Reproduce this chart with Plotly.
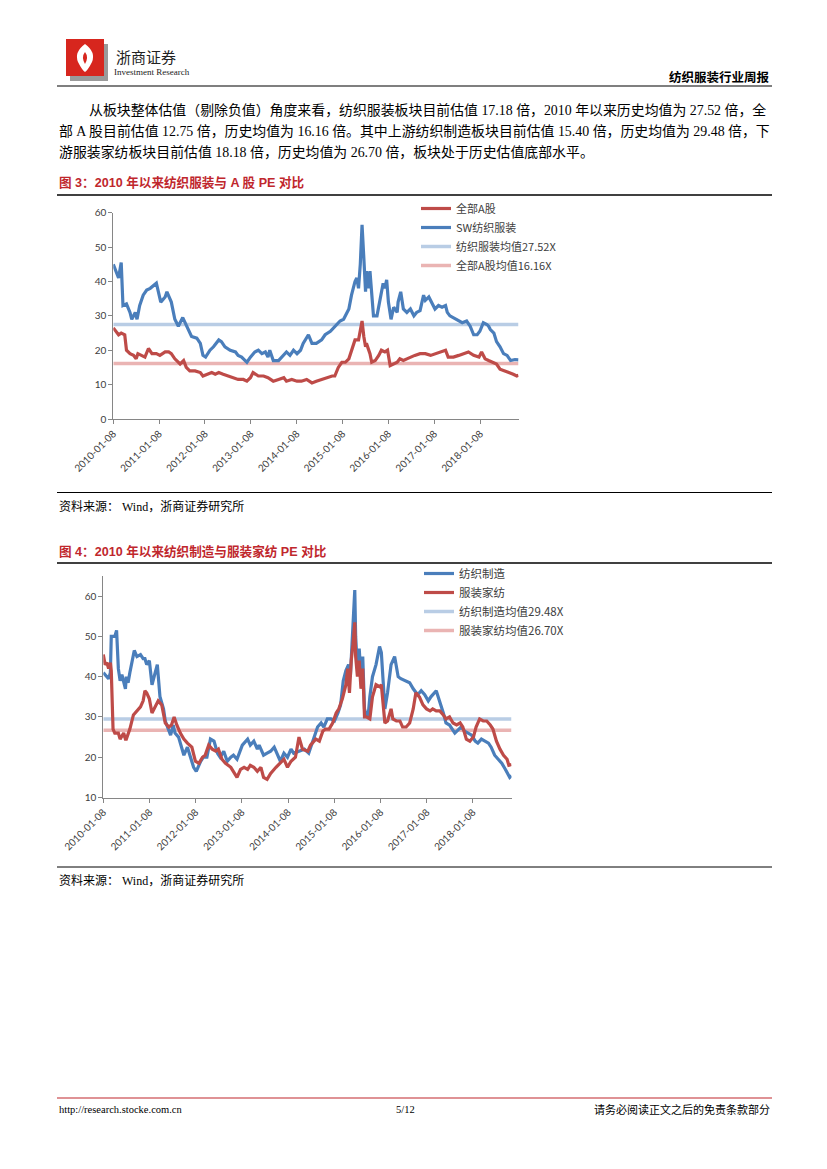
import pandas as pd
import plotly.graph_objects as go

# ---------------- data (weekly index since 2010-01-08, PE values) ----------------
START = "2010-01-08"

# Figure 3: 全部A股 vs SW纺织服装
a_weeks = [0, 4, 6, 9, 13, 15, 19, 23, 26, 28, 32, 36, 40, 44, 49, 53, 59, 63, 66, 70, 76, 80, 83, 87, 93, 99,
           102, 106, 112, 116, 120, 125, 131, 137, 142, 148, 152, 156, 159, 165, 171, 176, 182, 188, 194, 197,
           203, 209, 214, 220, 226, 231, 237, 243, 249, 252, 256, 260, 264, 268, 271, 275, 279, 281, 283, 285,
           287, 288, 292, 294, 298, 302, 305, 309, 312, 315, 319, 323, 326, 330, 334, 338, 343, 349, 355, 361,
           366, 372, 378, 381, 387, 393, 398, 404, 410, 416, 419, 423, 427, 431, 436, 440, 444, 450, 455, 459, 461]
a_pe = [26.5, 25, 24.5, 25, 24.5, 20, 19, 18.5, 17.5, 19, 18.5, 18, 20.5, 19, 19, 18.5, 19.5, 19.5, 19, 17.5, 16,
        17, 15, 14, 14, 13.5, 12.5, 13, 13.5, 13, 13.5, 13, 12.5, 12, 11.5, 11.5, 11, 12, 13.5, 12.5, 12.5, 12,
        11, 11.5, 12, 11, 11.5, 11, 11, 11.5, 10.5, 11, 11.5, 12, 12.5, 12.5, 15, 16.5, 16.5, 17.5, 20, 23, 23,
        26, 28.5, 24, 21, 22, 19, 16.5, 17, 18.5, 20, 19.5, 20, 15.5, 16, 16.5, 17.5, 17, 17.5, 18, 18.5, 19,
        19, 18.5, 19, 19.5, 20, 18, 18, 18.5, 19, 19.5, 18.5, 18, 19.5, 17.5, 17, 16.5, 16, 14.5, 14, 13.5, 13,
        12.5, 12.75]

sw_weeks = [0, 4, 6, 9, 11, 15, 19, 21, 25, 27, 30, 34, 38, 42, 47, 49, 54, 59, 61, 65, 66, 70, 74, 79, 82, 83,
            89, 95, 99, 102, 105, 110, 114, 120, 123, 127, 133, 139, 142, 146, 152, 156, 161, 165, 169, 173, 176,
            178, 182, 188, 194, 197, 201, 205, 209, 213, 216, 222, 226, 231, 237, 241, 247, 252, 258, 262, 268,
            271, 275, 277, 279, 281, 283, 285, 287, 288, 290, 292, 296, 300, 304, 307, 309, 311, 313, 316, 319,
            323, 324, 327, 330, 334, 338, 342, 345, 349, 353, 355, 359, 362, 366, 370, 374, 378, 380, 383, 387,
            391, 397, 402, 406, 410, 414, 417, 421, 425, 427, 429, 433, 436, 440, 444, 448, 452, 457, 461]
sw_pe = [45, 42, 41, 45.5, 33, 33.5, 31, 29, 31, 29, 33, 36, 37.5, 38, 39, 39.5, 34, 35.5, 37, 35, 34, 29, 27,
         29.5, 28, 27, 24, 23.5, 22, 18.5, 18, 20, 21, 23, 22.5, 21, 20, 19.5, 18.5, 18, 16.5, 18, 19.5, 20, 19,
         19.5, 18, 20, 17, 17, 18.5, 19.5, 18.5, 20, 19, 20, 22, 24.5, 22, 22, 23, 24.5, 25.5, 27, 28.5, 29, 32,
         36, 40, 41, 38, 45, 56.5, 47, 37, 43, 38, 43, 30, 30, 35, 39.5, 38, 40.5, 34, 29, 32.5, 31, 34, 37, 32,
         31, 32, 30, 31, 31.5, 36, 34.5, 35.5, 34, 32, 33, 32.5, 33, 31, 30, 29.5, 29, 28, 28.5, 27, 24.5, 24.5,
         25.5, 28, 27.5, 27, 26, 25, 22.5, 21, 19, 18.5, 17, 17.3, 17.18]

sw_mean = 27.52
a_mean = 16.16

# Figure 4: 纺织制造 vs 服装家纺
tex_weeks = [0, 4, 6, 8, 9, 13, 15, 17, 19, 21, 25, 26, 28, 30, 32, 35, 38, 42, 45, 47, 49, 52, 55, 59, 61, 64,
             68, 70, 74, 76, 79, 81, 85, 89, 91, 95, 98, 102, 105, 110, 113, 117, 121, 125, 129, 132, 136, 140,
             144, 147, 151, 157, 163, 166, 170, 174, 176, 181, 185, 189, 193, 197, 200, 204, 208, 212, 215, 221,
             227, 232, 238, 242, 246, 249, 253, 257, 261, 265, 268, 271, 274, 277, 279, 282, 284, 285, 287, 289,
             291, 293, 295, 297, 299, 301, 304, 308, 312, 314, 316, 318, 321, 325, 329, 333, 336, 342, 346, 350,
             353, 355, 359, 363, 367, 370, 376, 380, 384, 387, 391, 397, 401, 404, 408, 412, 416, 420, 423, 427,
             431, 435, 438, 442, 446, 450, 454, 457, 459, 461]
tex_pe = [41, 40, 39.5, 41, 50, 50, 51.5, 42, 39, 40.5, 37, 40, 38.5, 41, 43, 46.5, 45, 45.5, 44.5, 44.5, 43, 44,
          38, 41, 43, 35, 32, 29, 27, 25.5, 28, 26, 25, 22, 20.5, 22.5, 20.5, 17.5, 16.5, 19, 20, 20, 24.5, 24,
          21, 20, 21.5, 19, 20, 20.5, 19.5, 23, 24.5, 23, 24, 22, 23, 20.5, 21, 21.5, 22.5, 20.5, 19, 21, 20, 22,
          21, 21.5, 22, 21, 25, 27.5, 28.5, 27.5, 29.5, 29.5, 29, 31, 33, 39, 41.5, 43, 40, 52, 61.5, 50, 42, 47,
          40, 45, 32, 30.5, 30, 35, 40, 43, 47.5, 46, 38, 32, 36, 43, 45, 40, 39.5, 39, 38.5, 37, 36, 35.5, 36.5,
          35.5, 34, 35, 36.5, 34, 31, 28.5, 28, 26, 27, 27.5, 26.5, 26, 25.5, 24, 23.5, 24.5, 24, 23.5, 22.5,
          20.5, 19.5, 18.5, 17, 16, 15, 15.4]

app_weeks = [0, 2, 4, 6, 8, 9, 11, 13, 17, 19, 23, 25, 26, 30, 34, 38, 42, 45, 47, 49, 52, 55, 59, 62, 66, 70,
             74, 77, 80, 83, 87, 91, 95, 100, 104, 108, 112, 115, 119, 123, 127, 130, 134, 138, 144, 147, 151, 155,
             159, 163, 166, 170, 174, 178, 181, 185, 189, 195, 200, 204, 208, 212, 217, 221, 225, 231, 234, 240,
             244, 248, 251, 255, 259, 263, 266, 270, 274, 276, 278, 280, 282, 284, 285, 287, 289, 291, 293, 295,
             297, 301, 304, 308, 312, 314, 318, 321, 325, 327, 331, 335, 338, 342, 346, 350, 353, 357, 361, 365,
             369, 372, 376, 380, 384, 387, 391, 395, 399, 403, 406, 410, 414, 418, 421, 425, 429, 433, 437, 440,
             444, 448, 452, 456, 458, 461]
app_pe = [45.5, 43, 43.5, 42, 43.5, 41.5, 27, 26, 26, 24.5, 26, 24.5, 24.5, 27, 30.5, 31.5, 32.5, 34, 36.5, 36,
          34.5, 31, 32.5, 34, 33, 28.5, 27.5, 28, 30, 28, 26, 24.5, 23.5, 22.5, 19, 18.5, 20, 20.5, 23, 22, 21.5,
          22, 19.5, 18.5, 17.5, 16.5, 15, 17, 17.5, 17, 18, 17.5, 16.5, 17.5, 15, 14.5, 16, 17.5, 18.5, 19.5,
          17.5, 19, 20, 25, 22, 21.5, 23, 24.5, 24, 26.5, 27, 27, 28.5, 31, 32, 34.5, 38, 42, 36, 44, 48, 53.5,
          45, 40, 44, 37, 42, 30, 30, 29.5, 35, 38, 37.5, 38, 28.5, 29, 32, 29.5, 29, 29, 27.5, 27.5, 28.5, 32,
          36, 35, 33, 32, 31.5, 32, 31.5, 31.5, 30.5, 29.5, 30, 28.5, 28, 28.5, 27.5, 24.5, 24, 25, 27.5, 29.5,
          29, 29, 28, 27, 24, 22, 20.5, 19.5, 18, 18.18]

tex_mean = 29.48
app_mean = 26.70

tick_dates = ["2010-01-08", "2011-01-08", "2012-01-08", "2013-01-08", "2014-01-08",
              "2015-01-08", "2016-01-08", "2017-01-08", "2018-01-08"]
END = "2018-11-09"


def to_dates(weeks):
    return pd.Timestamp(START) + pd.to_timedelta([w * 7 for w in weeks], unit="D")


# ---------------- page geometry helpers ----------------
W, H = 827, 1169
OFF = 8  # default body margin of the page that hosts the figure


def px(x):
    return (x - OFF) / W


def py(y):
    return 1 - (y - OFF) / H


BLUE = "#4a7ebb"
RED = "#be4b48"
LBLUE = "#b9cde5"
LRED = "#eab4b3"
AX = "#868686"
TICKFONT = dict(family="Lato, Open Sans, sans-serif", size=10, color="#404040")
CJK = "Noto Sans CJK SC"
SERIF = "Liberation Serif, Noto Sans CJK SC"

fig = go.Figure()

span = [pd.Timestamp(START), pd.Timestamp(END)]
fig.add_trace(go.Scatter(x=span, y=[sw_mean, sw_mean], mode="lines", name="纺织服装均值27.52X",
                         line=dict(color=LBLUE, width=3.5), xaxis="x", yaxis="y", legend="legend", legendrank=3))
fig.add_trace(go.Scatter(x=span, y=[a_mean, a_mean], mode="lines", name="全部A股均值16.16X",
                         line=dict(color=LRED, width=3.5), xaxis="x", yaxis="y", legend="legend", legendrank=4))
fig.add_trace(go.Scatter(x=to_dates(a_weeks), y=a_pe, mode="lines", name="全部A股",
                         line=dict(color=RED, width=3.2), xaxis="x", yaxis="y", legend="legend", legendrank=1))
fig.add_trace(go.Scatter(x=to_dates(sw_weeks), y=sw_pe, mode="lines", name="SW纺织服装",
                         line=dict(color=BLUE, width=3.2), xaxis="x", yaxis="y", legend="legend", legendrank=2))

fig.add_trace(go.Scatter(x=span, y=[tex_mean, tex_mean], mode="lines", name="纺织制造均值29.48X",
                         line=dict(color=LBLUE, width=3.5), xaxis="x2", yaxis="y2", legend="legend2", legendrank=3))
fig.add_trace(go.Scatter(x=span, y=[app_mean, app_mean], mode="lines", name="服装家纺均值26.70X",
                         line=dict(color=LRED, width=3.5), xaxis="x2", yaxis="y2", legend="legend2", legendrank=4))
fig.add_trace(go.Scatter(x=to_dates(tex_weeks), y=tex_pe, mode="lines", name="纺织制造",
                         line=dict(color=BLUE, width=3.2), xaxis="x2", yaxis="y2", legend="legend2", legendrank=1))
fig.add_trace(go.Scatter(x=to_dates(app_weeks), y=app_pe, mode="lines", name="服装家纺",
                         line=dict(color=RED, width=3.2), xaxis="x2", yaxis="y2", legend="legend2", legendrank=2))

xcommon = dict(type="date", range=span, tickvals=tick_dates, ticktext=tick_dates, tickangle=-45,
               showline=True, linecolor=AX, linewidth=1, ticks="outside", ticklen=4, tickcolor=AX,
               showgrid=False, zeroline=False, tickfont=TICKFONT, fixedrange=True, automargin=False)
ycommon = dict(showline=True, linecolor=AX, linewidth=1, ticks="outside", ticklen=4, tickcolor=AX,
               showgrid=False, zeroline=False, tickfont=TICKFONT, dtick=10, fixedrange=True, automargin=False)

fig.update_layout(
    template="none",
    width=W, height=H, autosize=False, margin=dict(l=0, r=0, t=0, b=0, pad=0),
    paper_bgcolor="white", plot_bgcolor="white", showlegend=True,
    xaxis=dict(domain=[px(113.3), px(518.5)], anchor="y", **xcommon),
    yaxis=dict(domain=[py(419), py(212.7)], range=[0, 60], anchor="x", tick0=0, **ycommon),
    xaxis2=dict(domain=[px(103.3), px(511.5)], anchor="y2", **xcommon),
    yaxis2=dict(domain=[py(797.5), py(576)], range=[10, 65], anchor="x2", tick0=10, **ycommon),
    legend=dict(x=px(416), y=py(194), xanchor="left", yanchor="top", bgcolor="rgba(0,0,0,0)",
                font=dict(family=CJK, size=11, color="#404040"), itemwidth=30, tracegroupgap=0),
    legend2=dict(x=px(419), y=py(559), xanchor="left", yanchor="top", bgcolor="rgba(0,0,0,0)",
                 font=dict(family=CJK, size=11.5, color="#404040"), itemwidth=30, tracegroupgap=0),
)

shapes = []


def hline(y, x0=57, x1=772, color="#000000", width=1):
    shapes.append(dict(type="line", xref="paper", yref="paper", x0=px(x0), x1=px(x1), y0=py(y), y1=py(y),
                       line=dict(color=color, width=width)))


hline(86, color="#555555", width=1.5)
hline(195, color="#000000", width=1.5)
hline(492.5, color="#000000", width=1)
hline(563, color="#000000", width=1.5)
hline(867, color="#000000", width=1)
hline(1098, color="#c0272d", width=1.2)


def rect_path(x0, y0, x1, y1):
    return f"M{px(x0)},{py(y0)} L{px(x1)},{py(y0)} L{px(x1)},{py(y1)} L{px(x0)},{py(y1)} Z"


# logo
shapes.append(dict(type="path", xref="paper", yref="paper", path=rect_path(70, 44, 108, 81),
                   fillcolor="#9a9a9a", line=dict(width=0)))
shapes.append(dict(type="path", xref="paper", yref="paper", path=rect_path(66, 39, 104, 76),
                   fillcolor="#d7261e", line=dict(width=0)))
logo_white = (f"M{px(85)},{py(44)} Q{px(74)},{py(52)} {px(78)},{py(62)} Q{px(82)},{py(70)} {px(85)},{py(72)} "
              f"Q{px(88)},{py(70)} {px(92)},{py(62)} Q{px(96)},{py(52)} {px(85)},{py(44)} Z "
              f"M{px(85)},{py(52)} Q{px(81)},{py(57)} {px(85)},{py(64)} Q{px(89)},{py(57)} {px(85)},{py(52)} Z")
shapes.append(dict(type="path", xref="paper", yref="paper", path=logo_white, fillcolor="white",
                   line=dict(width=0)))
fig.update_layout(shapes=shapes)

ann = []


def text(x, y, s, size=12, family=SERIF, color="#000000", xanchor="left"):
    ann.append(dict(x=px(x), y=py(y), xref="paper", yref="paper", text=s, showarrow=False,
                    xanchor=xanchor, yanchor="middle", font=dict(family=family, size=size, color=color)))


text(114, 56, "浙商证券", size=15, family=CJK, color="#222222")
text(112, 72, "Investment Research", size=9, family="Liberation Serif", color="#222222")
text(772, 77, "<b>纺织服装行业周报</b>", size=12.5, family=CJK, xanchor="right")

text(87, 110, "从板块整体估值（剔除负值）角度来看，纺织服装板块目前估值 17.18 倍，2010 年以来历史均值为 27.52 倍，全",
     size=13.9)
text(57, 131, "部 A 股目前估值 12.75 倍，历史均值为 16.16 倍。其中上游纺织制造板块目前估值 15.40 倍，历史均值为 29.48 倍，下",
     size=13.9)
text(57, 152, "游服装家纺板块目前估值 18.18 倍，历史均值为 26.70 倍，板块处于历史估值底部水平。", size=13.9)

text(57, 183, "<b>图 3：2010 年以来纺织服装与 A 股 PE 对比</b>", size=12.6,
     family="Liberation Sans, Noto Sans CJK SC", color="#c0272d")
text(57, 506, "资料来源： Wind，浙商证券研究所", size=12)
text(57, 551, "<b>图 4：2010 年以来纺织制造与服装家纺 PE 对比</b>", size=12.6,
     family="Liberation Sans, Noto Sans CJK SC", color="#c0272d")
text(57, 880, "资料来源： Wind，浙商证券研究所", size=12)

text(57, 1109, "http://research.stocke.com.cn", size=10.5)
text(405, 1109, "5/12", size=10.5, xanchor="center")
text(772, 1109, "请务必阅读正文之后的免责条款部分", size=11, xanchor="right")

fig.update_layout(annotations=ann)

fig.write_html("out.html")
